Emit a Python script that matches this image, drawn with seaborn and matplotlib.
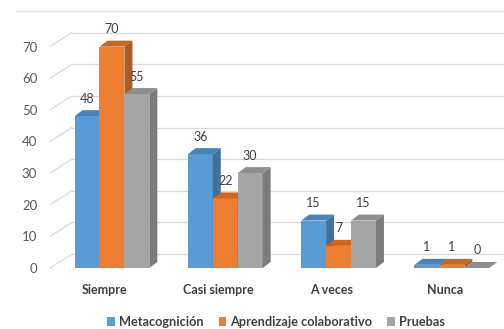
import numpy as np
import pandas as pd
import matplotlib.pyplot as plt
import matplotlib.transforms as mtransforms
from matplotlib.colors import to_hex
from matplotlib.lines import Line2D
from matplotlib.patches import Polygon, Patch
import seaborn as sns

# datos
categorias = ['Siempre', 'Casi siempre', 'A veces', 'Nunca']
series = ['Metacognición', 'Aprendizaje colaborativo', 'Pruebas']
metacognicion = [48, 36, 15, 1]
aprendizaje = [70, 22, 7, 1]
pruebas = [55, 30, 15, 0]
y_ticks = [0, 10, 20, 30, 40, 50, 60, 70]

colores = ['#5B9BD5', '#ED7D31', '#A5A5A5']
lados = ['#41719C', '#AE5A21', '#7C7C7C']
techos = ['#4A83BA', '#C9661F', '#8E8E8E']

df = pd.DataFrame({
    'categoria': categorias * 3,
    'serie': np.repeat(series, len(categorias)),
    'valor': metacognicion + aprendizaje + pruebas,
})

sns.set_theme(style='white')
plt.rcParams['font.family'] = ['Lato', 'DejaVu Sans']

W, H = 504, 329
fig = plt.figure(figsize=(W / 100, H / 100), dpi=100)
x0, x1 = 55.3, 504
y0, y1 = 61, 314
ax = fig.add_axes([x0 / W, y0 / H, (x1 - x0) / W, (y1 - y0) / H])

sns.barplot(data=df, x='categoria', y='valor', hue='serie', palette=colores,
            saturation=1, width=0.66, legend=False, ax=ax)
xlim = (-0.5, -0.5 + (x1 - x0) / 113.3)
ax.set_xlim(*xlim)
ax.set_ylim(0, 80)

# conversion pixel -> datos
px_x = (x1 - x0) / (xlim[1] - xlim[0])
px_y = (y1 - y0) / 80.0
DX, DY = 22 / px_x, 14 / px_y      # profundidad de la pared
ddx, ddy = 8 / px_x, 6 / px_y      # profundidad de las barras
xa = xlim[0] + (50 - x0) / px_x

# pared: lineas de cuadricula al fondo y diagonales laterales
for v in y_ticks:
    ax.plot([xa, xa + DX], [v, v + DY], color='#D9D9D9', lw=0.9, zorder=0, clip_on=False)
    ax.plot([xa + DX, xlim[1] + 0.2], [v + DY, v + DY], color='#D9D9D9', lw=0.9,
            zorder=0, clip_on=False)

# caras laterales y superiores de las barras
for p in list(ax.patches):
    k = colores.index(to_hex(p.get_facecolor()).upper())
    x, w, h = p.get_x(), p.get_width(), p.get_height()
    p.set_zorder(2 + k)
    p.set_edgecolor('none')
    lado = Polygon([(x + w, 0), (x + w + ddx, ddy), (x + w + ddx, h + ddy), (x + w, h)],
                   closed=True, facecolor=lados[k], edgecolor='none', zorder=2 + k)
    techo = Polygon([(x, h), (x + ddx, h + ddy), (x + w + ddx, h + ddy), (x + w, h)],
                    closed=True, facecolor=techos[k], edgecolor='none', zorder=2 + k)
    ax.add_patch(lado)
    ax.add_patch(techo)
    ax.text(x + w / 2, h + 17.5 / px_y, f'{h:.0f}', ha='center', va='center',
            fontsize=9, color='#404040', zorder=10)

sns.despine(ax=ax, left=True, bottom=True)
ax.set_yticks(y_ticks)
ax.tick_params(axis='y', length=0, pad=13, labelsize=9.5, labelcolor='#595959')
ax.tick_params(axis='x', length=0, pad=11.5, labelsize=9, labelcolor='#404040')
for lbl in ax.get_xticklabels():
    lbl.set_fontweight('bold')
    lbl.set_transform(lbl.get_transform() + mtransforms.ScaledTranslation(-7 / 100, 0, fig.dpi_scale_trans))
ax.set_xlabel('')
ax.set_ylabel('')
ax.grid(False)

# linea tenue superior
fig.add_artist(Line2D([16 / W, 1], [1 - 11 / H, 1 - 11 / H], color='#E3E3E3', lw=0.9))

handles = [Patch(facecolor=c, edgecolor='none') for c in colores]
leg = fig.legend(handles, series, loc='center', bbox_to_anchor=(276 / W, 7 / H), ncol=3,
                 frameon=False, handlelength=0.6, handleheight=0.6, handletextpad=0.3,
                 columnspacing=1.2, fontsize=9.2, borderaxespad=0)
for t in leg.get_texts():
    t.set_color('#404040')
    t.set_fontweight('bold')

fig.savefig('out.png', dpi=100)
